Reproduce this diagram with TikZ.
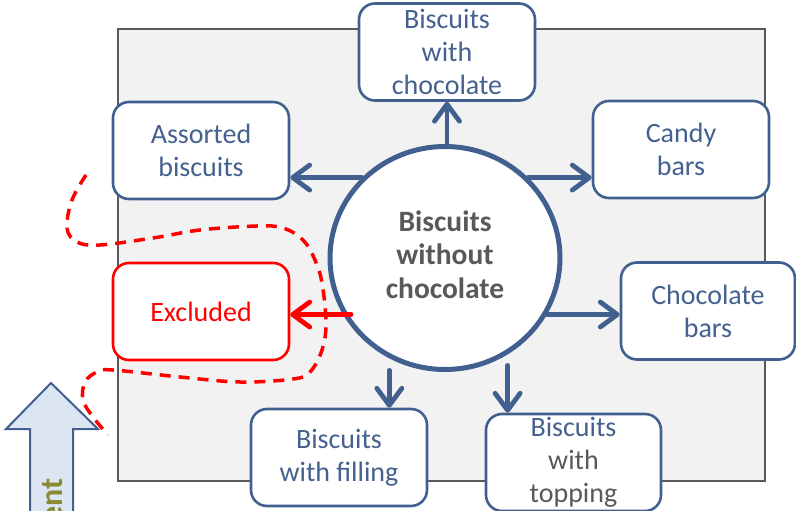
\documentclass[tikz,border=0pt]{standalone}
\usepackage{fontspec}
\setmainfont{Carlito}
\usetikzlibrary{arrows.meta,shapes.geometric,calc}
\definecolor{frameblue}{HTML}{41608F}
\definecolor{textblue}{HTML}{44618F}
\definecolor{darkgrey}{HTML}{595959}
\definecolor{panelgrey}{HTML}{F2F2F2}
\definecolor{arrowfill}{HTML}{DCE6F2}
\definecolor{olive}{HTML}{8A8A35}
\definecolor{alertred}{HTML}{FF0000}
\tikzset{
  catbox/.style={draw=frameblue, line width=2.6pt, fill=white, rounded corners=16pt,
    minimum width=176pt, minimum height=97pt, inner sep=0pt, align=center,
    text=textblue, font=\fontsize{28}{33}\selectfont},
  redbox/.style={catbox, draw=alertred, text=alertred},
  hub/.style={ellipse, draw=frameblue, line width=5pt, fill=white,
    minimum width=230pt, minimum height=223pt, inner sep=0pt, align=center,
    text=darkgrey, font=\fontsize{29.5}{33.5}\selectfont\bfseries},
  flow/.style={draw=frameblue, line width=4.8pt, line cap=round,
    -{Straight Barb[round,length=17pt,width=25pt]}},
  flowred/.style={flow, draw=alertred},
}
\begin{document}
\begin{tikzpicture}[x=1pt,y=-1pt]
  \useasboundingbox (0,0) rectangle (796,511);
  % background panel
  \draw[draw=darkgrey, line width=2.5pt, fill=panelgrey] (118,29) rectangle (765,481);

  % hub and categories
  \node[hub] (c) at (445,258) {\raisebox{3pt}{\begin{tabular}{@{}c@{}}Biscuits\\without\\chocolate\end{tabular}}};
  \node[catbox] (top) at (447,52) {Biscuits\\with\\chocolate};
  \node[catbox] (assorted) at (201,150.5) {Assorted\\biscuits};
  \node[catbox] (candy) at (681,149.5) {Candy\\bars};
  \node[catbox, minimum width=174pt] (chocbars) at (708,311) {Chocolate\\bars};
  \node[redbox] (excl) at (201,311.5) {Excluded};
  \node[catbox] (filling) at (339,457.5) {Biscuits\\with filling};
  \node[catbox, minimum width=175pt] (topping) at (573.5,462.5)
    {Biscuits\\\textcolor{darkgrey}{with}\\\textcolor{darkgrey}{topping}};

  % connectors
  \draw[flow] (top.south |- c.north) -- (top.south);
  \draw[flow] (c.136) -- (c.136 -| assorted.east);
  \draw[flow] (c.44) -- (c.44 -| candy.west);
  \draw[flow] (c.-29) -- (c.-29 -| chocbars.west);
  \draw[flowred] ([xshift=8pt]c.209) -- (c.209 -| excl.east);
  \draw[flow] ([yshift=-12pt]c.-119) -- (c.-119 |- filling.north);
  \draw[flow] ([yshift=-11pt]c.-57) -- (c.-57 |- topping.north);

  % dashed boundary around the excluded group
  \draw[alertred, line width=3.5pt, dash pattern=on 11pt off 8pt]
    plot[smooth, tension=0.6] coordinates {
      (86,175) (72,200) (67,228) (77,242) (100,245) (153,238) (200,230)
      (257,226) (283,228) (303,240) (315,260) (322,283) (326,323)
      (322,350) (310,372) (293,379) (240,382) (180,377) (113,370)
      (97,372) (85,382) (83,400) (93,417) (108,435)};

  % upward arrow at the lower left
  \draw[draw=frameblue, line width=2pt, fill=arrowfill, line join=miter]
    (51,383) -- (98,429) -- (73,429) -- (73,530) -- (30,530) -- (30,429) -- (6,429) -- cycle;
  \node[rotate=90, anchor=base east, inner sep=0pt, text=olive,
    font=\fontsize{32}{36}\selectfont\bfseries] (axis) at (62,478) {ent};
\end{tikzpicture}
\end{document}
